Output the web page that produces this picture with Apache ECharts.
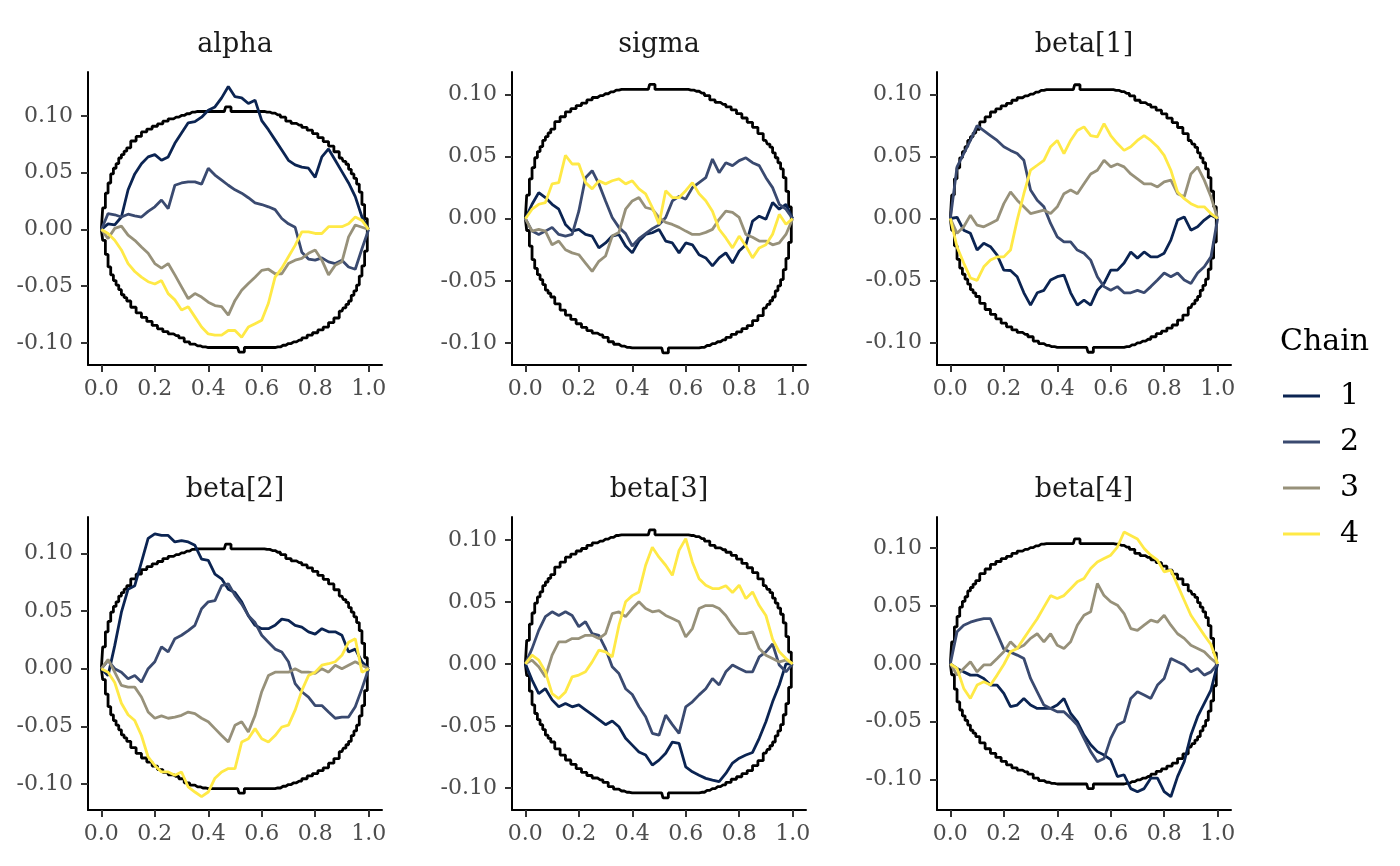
<!DOCTYPE html>
<html>
<head>
<meta charset="utf-8">
<script src="https://cdn.jsdelivr.net/npm/echarts@6/dist/echarts.min.js"></script>
<style>
  html, body { margin: 0; padding: 0; background: #fff; }
  #chart { width: 1400px; height: 866px; }
</style>
</head>
<body>
<div id="chart"></div>
<script>
// panels and chains
const panels = ['alpha', 'sigma', 'beta[1]', 'beta[2]', 'beta[3]', 'beta[4]'];
const chains = ['1', '2', '3', '4'];
const xTicks = [0, 0.2, 0.4, 0.6, 0.8, 1.0];
const yTicks = [-0.1, -0.05, 0, 0.05, 0.1];

// fractional rank where the ECDF differences were read
const fracs = [0, 0.025, 0.05, 0.075, 0.1, 0.125, 0.15, 0.175, 0.2, 0.225, 0.25, 0.275, 0.3, 0.325, 0.35,
  0.375, 0.4, 0.425, 0.45, 0.475, 0.5, 0.525, 0.55, 0.575, 0.6, 0.625, 0.65, 0.675, 0.7, 0.725, 0.75,
  0.775, 0.8, 0.825, 0.85, 0.875, 0.9, 0.925, 0.95, 0.975, 1.0];

// simultaneous confidence envelope
const envX = [0, 0.01, 0.02, 0.03, 0.04, 0.05, 0.06, 0.07, 0.08, 0.09, 0.10, 0.12, 0.14, 0.16, 0.18, 0.20,
  0.22, 0.24, 0.26, 0.28, 0.30, 0.32, 0.34, 0.36, 0.38, 0.40, 0.42, 0.44, 0.46, 0.47, 0.48, 0.49, 0.50,
  0.51, 0.52, 0.53, 0.54, 0.56, 0.58, 0.60, 0.62, 0.64, 0.66, 0.68, 0.70, 0.72, 0.74, 0.76, 0.78, 0.80,
  0.82, 0.84, 0.86, 0.88, 0.90, 0.91, 0.92, 0.93, 0.94, 0.95, 0.96, 0.97, 0.98, 0.99, 1.00];
const envUpper = [0, 0.019, 0.032, 0.041, 0.049, 0.054, 0.058, 0.063, 0.066, 0.069, 0.072, 0.078, 0.082,
  0.086, 0.0885, 0.091, 0.093, 0.0955, 0.0975, 0.099, 0.1005, 0.102, 0.1035, 0.104, 0.104, 0.104, 0.104,
  0.104, 0.104, 0.108, 0.108, 0.104, 0.104, 0.104, 0.104, 0.104, 0.104, 0.104, 0.104, 0.104, 0.1035,
  0.1025, 0.101, 0.099, 0.0955, 0.0935, 0.092, 0.090, 0.0875, 0.0845, 0.081, 0.0775, 0.0735, 0.0685,
  0.063, 0.060, 0.0575, 0.053, 0.049, 0.045, 0.040, 0.033, 0.022, 0.0095, 0];
const envLower = [0, -0.0095, -0.022, -0.033, -0.040, -0.045, -0.049, -0.053, -0.0575, -0.060, -0.063,
  -0.0685, -0.0735, -0.0775, -0.081, -0.0845, -0.0875, -0.090, -0.092, -0.0935, -0.0955, -0.099, -0.101,
  -0.1025, -0.1035, -0.104, -0.104, -0.104, -0.104, -0.104, -0.104, -0.104, -0.104, -0.104, -0.108,
  -0.108, -0.104, -0.104, -0.104, -0.104, -0.104, -0.104, -0.1035, -0.102, -0.1005, -0.099, -0.0975,
  -0.0955, -0.093, -0.091, -0.0885, -0.086, -0.082, -0.078, -0.072, -0.069, -0.066, -0.063, -0.058,
  -0.054, -0.049, -0.041, -0.032, -0.019, 0];

// alpha
const alpha1 = [0, 0.005, 0.004, 0.011, 0.035, 0.049, 0.058, 0.064, 0.066, 0.061, 0.064, 0.076, 0.085, 0.094,
  0.095, 0.099, 0.105, 0.108, 0.116, 0.126, 0.117, 0.116, 0.111, 0.114, 0.096, 0.088, 0.079, 0.070, 0.061,
  0.057, 0.055, 0.054, 0.046, 0.064, 0.071, 0.061, 0.051, 0.041, 0.029, 0.011, 0];
const alpha2 = [0, 0.014, 0.013, 0.011, 0.0135, 0.012, 0.011, 0.016, 0.020, 0.026, 0.0185, 0.039, 0.041, 0.042,
  0.042, 0.040, 0.054, 0.048, 0.0435, 0.039, 0.035, 0.032, 0.028, 0.0235, 0.022, 0.020, 0.0175, 0.0097, 0.005,
  0.002, -0.020, -0.026, -0.027, -0.025, -0.0285, -0.030, -0.027, -0.033, -0.035, -0.017, 0];
const alpha3 = [0, -0.008, 0.001, 0.003, -0.005, -0.0095, -0.0155, -0.021, -0.030, -0.034, -0.030, -0.040,
  -0.0505, -0.061, -0.0565, -0.0595, -0.064, -0.067, -0.068, -0.0755, -0.0625, -0.0535, -0.0475, -0.042,
  -0.036, -0.035, -0.039, -0.039, -0.030, -0.027, -0.0255, -0.021, -0.018, -0.027, -0.040, -0.0315, -0.0285,
  -0.0065, 0.004, 0.002, 0];
const alpha4 = [0, -0.0035, -0.0095, -0.018, -0.030, -0.037, -0.042, -0.046, -0.048, -0.045, -0.0565, -0.062,
  -0.071, -0.068, -0.077, -0.086, -0.092, -0.093, -0.093, -0.089, -0.089, -0.095, -0.086, -0.083, -0.080,
  -0.065, -0.042, -0.034, -0.024, -0.014, -0.002, -0.002, -0.0035, -0.0035, 0.0025, 0.0025, 0.0025, 0.005,
  0.011, 0.008, 0];

// sigma
const sigma1 = [0, 0.0116, 0.021, 0.017, 0.0116, 0.0076, -0.0046, -0.010, -0.0086, -0.0127, -0.014, -0.0235,
  -0.0195, -0.014, -0.0127, -0.022, -0.0275, -0.018, -0.0127, -0.0113, -0.0086, -0.018, -0.0195, -0.0275,
  -0.0195, -0.021, -0.029, -0.0316, -0.038, -0.0316, -0.0275, -0.0357, -0.026, -0.021, -0.002, 0.002,
  -0.0005, 0.013, 0.0076, 0.0116, 0];
const sigma2 = [0, -0.010, -0.0127, -0.010, -0.007, -0.0127, -0.014, -0.0127, 0.006, 0.033, 0.0386, 0.028,
  0.0143, 0.001, -0.007, -0.012, -0.022, -0.016, -0.012, -0.008, -0.005, 0.001, 0.0143, 0.018, 0.0157, 0.025,
  0.029, 0.033, 0.048, 0.037, 0.045, 0.0427, 0.0467, 0.049, 0.045, 0.0427, 0.033, 0.025, 0.0116, 0.0076, 0];
const sigma3 = [0, -0.010, -0.0086, -0.010, -0.021, -0.018, -0.025, -0.0275, -0.029, -0.0357, -0.0424,
  -0.0343, -0.030, -0.014, -0.011, 0.0076, 0.0143, 0.017, 0.009, 0.0076, 0.001, -0.003, -0.0046, -0.007,
  -0.010, -0.0127, -0.0127, -0.011, -0.0086, -0.0005, 0.006, 0.005, 0.001, -0.0127, -0.015, -0.018, -0.018,
  -0.021, -0.0195, -0.0127, 0];
const sigma4 = [0, 0.0076, 0.0116, 0.013, 0.028, 0.029, 0.051, 0.044, 0.044, 0.029, 0.024, 0.0305, 0.028,
  0.0305, 0.032, 0.028, 0.0305, 0.024, 0.020, 0.009, -0.0045, 0.0225, 0.017, 0.017, 0.0225, 0.029, 0.020,
  0.0145, 0.006, -0.0085, -0.0155, -0.0235, -0.014, -0.022, -0.0315, -0.0235, -0.021, -0.0125, 0.0035,
  -0.0045, 0];

// beta[1]
const beta1a = [0, 0.001, -0.0094, -0.012, -0.0255, -0.020, -0.0228, -0.0296, -0.0417, -0.042, -0.047, -0.060,
  -0.070, -0.060, -0.058, -0.0497, -0.047, -0.0457, -0.060, -0.070, -0.066, -0.070, -0.058, -0.0524, -0.0417,
  -0.0417, -0.036, -0.027, -0.032, -0.027, -0.031, -0.031, -0.028, -0.0175, -0.0013, 0.0013, -0.0094,
  -0.0067, -0.0013, 0.0027, 0];
const beta1b = [0, 0.0417, 0.0524, 0.063, 0.075, 0.071, 0.067, 0.063, 0.058, 0.055, 0.0524, 0.047, 0.023,
  0.0148, 0.0094, -0.004, -0.0148, -0.0188, -0.0188, -0.0255, -0.028, -0.0336, -0.047, -0.055, -0.058, -0.055,
  -0.060, -0.060, -0.058, -0.060, -0.055, -0.0497, -0.044, -0.047, -0.044, -0.0497, -0.0524, -0.044, -0.039,
  -0.031, 0];
const beta1c = [0, -0.012, -0.0067, 0.0027, -0.0054, -0.0067, -0.004, -0.0013, 0.012, 0.0215, 0.0148, 0.0094,
  0.004, 0.0054, 0.0067, 0.004, 0.0094, 0.020, 0.023, 0.020, 0.028, 0.036, 0.039, 0.047, 0.0417, 0.044,
  0.0417, 0.036, 0.032, 0.028, 0.028, 0.0255, 0.0296, 0.031, 0.020, 0.0175, 0.036, 0.0417, 0.031, 0.0175, 0];
const beta1d = [0, -0.023, -0.036, -0.048, -0.050, -0.039, -0.0336, -0.031, -0.031, -0.0255, -0.0013, 0.020,
  0.039, 0.043, 0.047, 0.058, 0.063, 0.0524, 0.063, 0.071, 0.074, 0.067, 0.066, 0.0766, 0.067, 0.0605, 0.055,
  0.058, 0.063, 0.067, 0.063, 0.058, 0.051, 0.039, 0.0215, 0.016, 0.012, 0.0094, 0.0094, 0.004, 0];

// beta[2]
const beta2a = [0, -0.006, 0.020, 0.049, 0.069, 0.072, 0.0925, 0.113, 0.117, 0.1156, 0.1156, 0.110, 0.111,
  0.110, 0.107, 0.095, 0.094, 0.082, 0.078, 0.069, 0.066, 0.058, 0.046, 0.0376, 0.0347, 0.0347, 0.0376,
  0.043, 0.042, 0.0376, 0.036, 0.032, 0.030, 0.0347, 0.032, 0.032, 0.029, 0.0145, 0.017, 0.006, 0];
const beta2b = [0, 0.007, 0, -0.003, -0.0087, -0.006, -0.0116, 0, 0.006, 0.019, 0.0145, 0.026, 0.029, 0.033,
  0.0376, 0.052, 0.058, 0.059, 0.072, 0.0737, 0.0636, 0.056, 0.046, 0.040, 0.029, 0.023, 0.017, 0.0145,
  0.006, -0.013, -0.020, -0.0246, -0.032, -0.032, -0.0376, -0.043, -0.042, -0.042, -0.033, -0.0173, 0];
const beta2c = [0, 0.008, -0.003, -0.0145, -0.016, -0.016, -0.0246, -0.0376, -0.043, -0.041, -0.043, -0.042,
  -0.0405, -0.0376, -0.039, -0.043, -0.046, -0.052, -0.058, -0.0636, -0.049, -0.046, -0.055, -0.0405, -0.020,
  -0.006, -0.003, -0.003, -0.003, 0, -0.003, -0.003, -0.004, 0, -0.003, 0.003, 0, 0.003, 0.006, 0.003, 0];
const beta2d = [0, -0.003, -0.012, -0.030, -0.040, -0.045, -0.058, -0.0766, -0.084, -0.0896, -0.0896, -0.0925,
  -0.0896, -0.1026, -0.107, -0.111, -0.107, -0.095, -0.0896, -0.0867, -0.0867, -0.0636, -0.0607, -0.052,
  -0.0607, -0.0636, -0.058, -0.0506, -0.049, -0.036, -0.019, -0.006, -0.003, 0.003, 0.0043, 0.006, 0.0116,
  0.023, 0.026, -0.003, 0];

// beta[3]
const beta3a = [0, -0.013, -0.024, -0.020, -0.029, -0.0346, -0.032, -0.0346, -0.033, -0.037, -0.041, -0.045,
  -0.049, -0.046, -0.0507, -0.060, -0.0655, -0.071, -0.0735, -0.0816, -0.0776, -0.072, -0.063, -0.064,
  -0.083, -0.087, -0.0897, -0.0923, -0.0937, -0.095, -0.0883, -0.080, -0.076, -0.0735, -0.0714, -0.060,
  -0.0467, -0.0306, -0.017, 0, 0];
const beta3b = [0, 0.0123, 0.027, 0.038, 0.042, 0.039, 0.042, 0.039, 0.030, 0.034, 0.0244, 0.023, 0.0123,
  -0.0024, -0.0078, -0.020, -0.0247, -0.0346, -0.0427, -0.056, -0.0575, -0.0413, -0.049, -0.056, -0.0346,
  -0.0306, -0.025, -0.020, -0.0118, -0.017, -0.0064, -0.001, -0.0037, -0.0064, -0.0064, 0.0056, 0.0097,
  0.016, -0.001, -0.0064, 0];
const beta3c = [0, 0.003, -0.0024, -0.0105, 0.007, 0.0177, 0.0177, 0.0204, 0.0204, 0.023, 0.023, 0.0204,
  0.0244, 0.0405, 0.042, 0.038, 0.0446, 0.050, 0.0446, 0.042, 0.043, 0.039, 0.0365, 0.034, 0.0217, 0.0285,
  0.0446, 0.047, 0.047, 0.0446, 0.039, 0.031, 0.0244, 0.0244, 0.0258, 0.0123, 0.007, 0.0043, 0.0016, 0.003, 0];
const beta3d = [0, 0.007, 0.003, -0.0064, -0.024, -0.028, -0.0226, -0.0105, -0.009, -0.0064, 0.0016, 0.011,
  0.0097, 0.0056, 0.031, 0.050, 0.055, 0.058, 0.0795, 0.094, 0.086, 0.0795, 0.0714, 0.0915, 0.101, 0.082,
  0.0687, 0.0634, 0.0607, 0.0607, 0.063, 0.0575, 0.0634, 0.0526, 0.058, 0.047, 0.039, 0.020, 0.0097, 0.0043, 0];

// beta[4]
const beta4a = [0, -0.004, -0.007, -0.0098, -0.0098, -0.0127, -0.0184, -0.0184, -0.0256, -0.037, -0.0357,
  -0.030, -0.0357, -0.0386, -0.0386, -0.0386, -0.0357, -0.030, -0.043, -0.050, -0.0617, -0.070, -0.076,
  -0.079, -0.083, -0.0976, -0.096, -0.108, -0.1107, -0.108, -0.099, -0.099, -0.1107, -0.115, -0.0976,
  -0.0847, -0.0617, -0.0458, -0.0343, -0.0228, 0];
const beta4b = [0, 0.0277, 0.0334, 0.036, 0.0378, 0.039, 0.039, 0.026, 0.0127, 0.010, 0.0075, 0.0046, -0.0127,
  -0.0242, -0.0357, -0.0386, -0.0415, -0.0415, -0.047, -0.053, -0.0645, -0.076, -0.0847, -0.082, -0.0645,
  -0.053, -0.050, -0.030, -0.0242, -0.027, -0.030, -0.0184, -0.0127, 0.0046, 0.0017, -0.001, -0.007, -0.004,
  -0.0098, -0.007, 0];
const beta4c = [0, -0.0098, -0.004, 0.0017, -0.007, -0.001, -0.001, 0.0046, 0.0104, 0.019, 0.0133, 0.016,
  0.022, 0.026, 0.019, 0.026, 0.016, 0.0133, 0.019, 0.0334, 0.042, 0.045, 0.0695, 0.059, 0.0536, 0.0507,
  0.0435, 0.0305, 0.029, 0.0334, 0.0378, 0.036, 0.042, 0.0334, 0.026, 0.022, 0.016, 0.0133, 0.0104, 0.0046, 0];
const beta4d = [0, -0.004, -0.0213, -0.030, -0.0184, -0.0156, -0.0184, -0.0098, -0.0006, 0.0104, 0.0133,
  0.022, 0.0305, 0.039, 0.049, 0.059, 0.0565, 0.059, 0.065, 0.071, 0.0738, 0.0824, 0.088, 0.091, 0.094,
  0.101, 0.114, 0.111, 0.108, 0.0997, 0.094, 0.0896, 0.0795, 0.081, 0.068, 0.055, 0.042, 0.0334, 0.0248,
  0.0167, 0];

const panelValues = [
  [alpha1, alpha2, alpha3, alpha4],
  [sigma1, sigma2, sigma3, sigma4],
  [beta1a, beta1b, beta1c, beta1d],
  [beta2a, beta2b, beta2c, beta2d],
  [beta3a, beta3b, beta3c, beta3d],
  [beta4a, beta4b, beta4c, beta4d]
];

// layout / style
const font = 'DejaVu Serif';
const chainColors = ['#0B2452', '#3A4A70', '#97917A', '#FFE946'];
const colLeft = [88, 512, 937];
const rowTop = [72, 517];
const panelW = 294, panelH = 293;
const yRanges = [[-0.1194, 0.1388], [-0.1177, 0.118], [-0.1183, 0.1183],
                 [-0.1226, 0.1316], [-0.1178, 0.1184], [-0.1265, 0.127]];

const pairs = (xs, ys) => xs.map((x, k) => [x, ys[k]]);

const grids = [], xAxes = [], yAxes = [], series = [], titles = [];

panels.forEach((name, i) => {
  const col = i % 3, row = Math.floor(i / 3);
  grids.push({left: colLeft[col], top: rowTop[row], width: panelW, height: panelH});
  titles.push({
    text: name, left: colLeft[col] + panelW / 2, top: rowTop[row] - 41, textAlign: 'center', padding: 0,
    textStyle: {fontFamily: font, fontSize: 27, fontWeight: 'normal', color: '#1a1a1a'}
  });
  const axisCommon = {
    gridIndex: i,
    axisLine: {onZero: false, lineStyle: {color: '#000', width: 2}},
    axisTick: {length: 7, lineStyle: {color: '#333', width: 2}},
    splitLine: {show: false}
  };
  xAxes.push(Object.assign({}, axisCommon, {
    type: 'value', min: -0.05, max: 1.05,
    axisTick: Object.assign({}, axisCommon.axisTick, {customValues: xTicks}),
    axisLabel: {customValues: xTicks, margin: 13, fontFamily: font, fontSize: 22, color: '#4d4d4d',
      formatter: v => v.toFixed(1)}
  }));
  yAxes.push(Object.assign({}, axisCommon, {
    type: 'value', min: yRanges[i][0], max: yRanges[i][1],
    axisTick: Object.assign({}, axisCommon.axisTick, {customValues: yTicks}),
    axisLabel: {customValues: yTicks, margin: 15, fontFamily: font, fontSize: 22, color: '#4d4d4d',
      formatter: v => v.toFixed(2)}
  }));
  [envUpper, envLower].forEach((env, j) => {
    series.push({
      name: j === 0 ? 'upper' : 'lower', type: 'line', xAxisIndex: i, yAxisIndex: i,
      data: pairs(envX, env), step: 'middle', symbol: 'none', silent: true,
      lineStyle: {color: '#000', width: 2.8}
    });
  });
  panelValues[i].forEach((vals, c) => {
    series.push({
      name: chains[c], type: 'line', xAxisIndex: i, yAxisIndex: i,
      data: pairs(fracs, vals), symbol: 'none', silent: true,
      color: chainColors[c],
      lineStyle: {color: chainColors[c], width: 2.8}
    });
  });
});

titles.push({
  text: 'Chain', left: 1280, top: 327, padding: 0,
  textStyle: {fontFamily: font, fontSize: 30, fontWeight: 'normal', color: '#000'}
});

const option = {
  animation: false,
  backgroundColor: '#fff',
  title: titles,
  grid: grids,
  xAxis: xAxes,
  yAxis: yAxes,
  legend: {
    data: chains, orient: 'vertical', left: 1283, top: 381, padding: 0,
    icon: 'rect', itemWidth: 37, itemHeight: 3, itemGap: 16, selectedMode: false,
    textStyle: {fontFamily: font, fontSize: 30, lineHeight: 30, color: '#000', padding: [0, 0, 0, 15]}
  },
  series: series
};

const chart = echarts.init(document.getElementById('chart'), null, {renderer: 'canvas'});
chart.setOption(option);
</script>
</body>
</html>
